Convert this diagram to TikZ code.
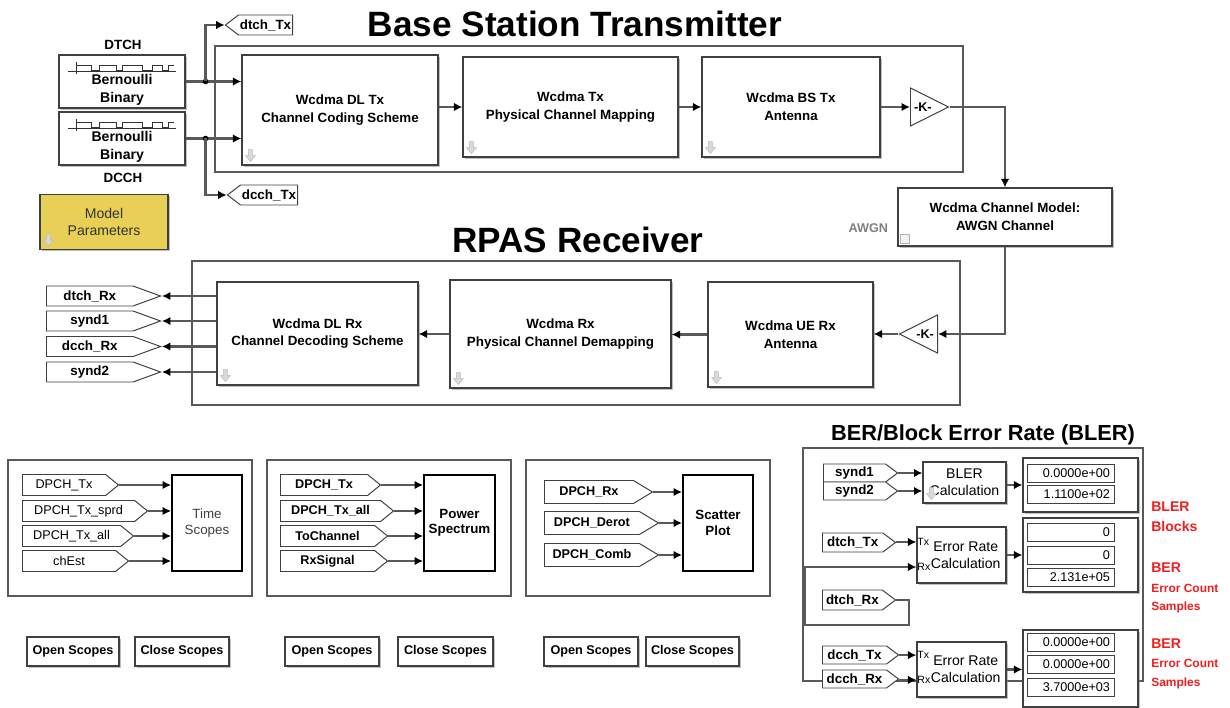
\documentclass[tikz,border=0pt]{standalone}
\usepackage{fontspec}
\setmainfont{Liberation Sans}
\usetikzlibrary{shapes, shapes.symbols, arrows.meta, positioning, shadows}
\usepackage{xcolor}

\definecolor{maskyellow}{RGB}{232,207,86}
\definecolor{berred}{RGB}{240,30,30}

% small gray mask arrow at the lower left corner of a block
\newcommand{\maskarrow}[1]{%
  \filldraw[gray!30, draw=gray!55, line width=0.3pt]
    ([shift={(7,-16)}]#1) -- ++(4,0) -- ++(0,6) -- ++(3,0) -- ++(-5,6) -- ++(-5,-6) -- ++(3,0) -- cycle;}

\begin{document}
\begin{tikzpicture}[x=0.025cm, y=-0.025cm,
        every node/.style={font=\fontsize{9.5}{12.5}\selectfont\bfseries},
        title/.style={font=\fontsize{25}{30}\selectfont\bfseries},
        block/.style={draw=black!75, line width=0.8pt, fill=white, align=center,
            drop shadow={shadow xshift=1.2pt, shadow yshift=-1.2pt, opacity=0.5}},
        frame/.style={draw=black!65, line width=0.8pt, fill=white,
            drop shadow={shadow xshift=1pt, shadow yshift=-1pt, opacity=0.35}},
        scopebox/.style={draw=black, line width=1.3pt, fill=white, align=center,
            minimum width=1.75cm, minimum height=2.4cm},
        button/.style={block, minimum height=0.725cm, inner sep=1pt, font=\fontsize{9}{10}\selectfont\bfseries},
        tagL/.style={signal, signal to=west, signal pointer angle=75, draw=black!75, fill=white,
            line width=0.7pt, inner sep=1pt, minimum height=0.5cm, anchor=east},
        tagR/.style={signal, signal to=east, signal pointer angle=78, draw=black!75, fill=white,
            line width=0.7pt, inner sep=1pt, minimum height=0.525cm, anchor=west},
        gain/.style={isosceles triangle, isosceles triangle stretches, draw=black!75, fill=white,
            line width=0.7pt, inner sep=0pt, minimum width=0.95cm, minimum height=0.95cm,
            font=\fontsize{9}{10}\selectfont\bfseries},
        field/.style={draw=black!75, line width=0.6pt, fill=white, inner xsep=3pt, inner ysep=0pt,
            text width=1.95cm, align=right, minimum height=0.45cm, font=\fontsize{9}{10}\selectfont},
        port/.style={inner sep=0.5pt, font=\fontsize{7.5}{8}\selectfont, anchor=west},
        redlbl/.style={text=berred, anchor=west, inner sep=0pt},
        sig/.style={draw=black!65, line width=1.6pt, -{Latex[length=6pt,width=6pt,color=black]}}
    ]
    \useasboundingbox (0,0) rectangle (1230,708);

    % Frames
    \draw[frame] (215,46) rectangle (963,172);
    \draw[frame] (192,261) rectangle (960,405);
    \draw[frame] (8,460) rectangle (252,596);
    \draw[frame] (267,460) rectangle (511,596);
    \draw[frame] (526,460) rectangle (770,596);
    \draw[frame] (803,448) rectangle (1143,681);

    % Titles
    \node[title] (txtitle) at (575,24) {Base Station Transmitter};
    \node[title] (rxtitle) at (578,240) {RPAS Receiver};
    \node[font=\fontsize{15.5}{18}\selectfont\bfseries] (bertitle) at (983,435) {BER/Block Error Rate (BLER)};

    % Sources
    \node (dtchlbl) at (123,45) {DTCH};
    \node[block, minimum width=3.15cm, minimum height=1.325cm] (bern1) at (122,81.5) {};
    \node[block, minimum width=3.15cm, minimum height=1.325cm] (bern2) at (122,138.5) {};
    \node (dcchlbl) at (123,178) {DCCH};
    \node[align=center, font=\fontsize{10}{12.5}\selectfont\bfseries] (bern1txt) at ([yshift=-0.21cm]bern1.center) {Bernoulli\\Binary};
    \node[align=center, font=\fontsize{10}{12.5}\selectfont\bfseries] (bern2txt) at ([yshift=-0.21cm]bern2.center) {Bernoulli\\Binary};
    \foreach \b in {bern1, bern2} {
        \draw[black!80, line width=0.6pt] ([shift={(10,17)}]\b.north west) -- ++(108,0);
        \draw[black!80, line width=0.6pt] ([shift={(18,8)}]\b.north west) -- ++(0,12);
        \draw[black!80, line width=0.6pt] ([shift={(18,11)}]\b.north west) -- ++(15,0) -- ++(0,5) -- ++(8,0)
            -- ++(0,-5) -- ++(17,0) -- ++(0,5) -- ++(6,0) -- ++(0,-5) -- ++(20,0) -- ++(0,5) -- ++(10,0)
            -- ++(0,-5) -- ++(10,0) -- ++(0,5) -- ++(6,0) -- ++(0,-5) -- ++(6,0);
    }
    \node[block, fill=maskyellow, minimum width=3.2cm, minimum height=1.375cm,
        font=\fontsize{10}{12.5}\selectfont, text=black!80] (modelpar) at (104,222) {Model\\Parameters};
    \maskarrow{modelpar.south west}

    \node[tagL, minimum width=1.575cm] (dtchTx) at (293,25) {dtch\_Tx};
    \node[tagL, minimum width=1.7cm] (dcchTx) at (298,195) {dcch\_Tx};

    % Transmitter
    \node[block, minimum width=4.9cm, minimum height=2.75cm] (coding) at (340,110)
        {Wcdma DL Tx\\Channel Coding Scheme};
    \node[block, minimum width=5.375cm, minimum height=2.5cm] (mapping) at (570.5,107)
        {Wcdma Tx\\Physical Channel Mapping};
    \node[block, minimum width=4.45cm, minimum height=2.5cm] (bstx) at (791,107)
        {Wcdma BS Tx\\Antenna};
    \node[gain, anchor=west] (gainTx) at (910,107) {-K-};
    \foreach \b in {coding, mapping, bstx} \maskarrow{\b.south west};

    % Channel
    \node[block, minimum width=5.35cm, minimum height=1.45cm] (awgn) at (1005,217)
        {Wcdma Channel Model:\\AWGN Channel};
    \node[anchor=east, text=black!50, font=\fontsize{9}{10}\selectfont\bfseries] (awgnlbl) at (893,228) {AWGN};
    \draw[gray!60, line width=0.5pt, fill=gray!10] ([shift={(3,-3)}]awgn.south west) rectangle ++(9,-9);

    % Receiver
    \node[block, minimum width=5.025cm, minimum height=2.575cm] (decoding) at (317.5,333.5)
        {Wcdma DL Rx\\Channel Decoding Scheme};
    \node[block, minimum width=5.525cm, minimum height=2.7cm] (demap) at (560.5,334)
        {Wcdma Rx\\Physical Channel Demapping};
    \node[block, minimum width=4.125cm, minimum height=2.625cm] (uerx) at (790.5,334.5)
        {Wcdma UE Rx\\Antenna};
    \node[gain, shape border rotate=180, anchor=east] (gainRx) at (938,334) {-K-};
    \foreach \b in {decoding, demap, uerx} \maskarrow{\b.south west};

    \node[tagR, signal pointer angle=40, minimum width=2.85cm, minimum height=0.5cm] (dtchRx) at (46,296) {dtch\_Rx};
    \node[tagR, signal pointer angle=40, minimum width=2.85cm, minimum height=0.5cm] (synd1) at (46,321) {synd1};
    \node[tagR, signal pointer angle=40, minimum width=2.85cm, minimum height=0.5cm] (dcchRx) at (46,346.5) {dcch\_Rx};
    \node[tagR, signal pointer angle=40, minimum width=2.85cm, minimum height=0.5cm] (synd2) at (46,372) {synd2};

    % Scope panels
    \node[tagR, minimum width=2.4cm, font=\fontsize{9}{10}\selectfont] (p1a) at (22,485) {DPCH\_Tx};
    \node[tagR, minimum width=3.125cm, font=\fontsize{9}{10}\selectfont] (p1b) at (22,511) {DPCH\_Tx\_sprd};
    \node[tagR, minimum width=2.775cm, font=\fontsize{9}{10}\selectfont] (p1c) at (22,536) {DPCH\_Tx\_all};
    \node[tagR, minimum width=2.65cm, font=\fontsize{9}{10}\selectfont] (p1d) at (22,561) {chEst};
    \node[scopebox, font=\fontsize{9.5}{12}\selectfont, text=black!75] (tscope) at (207,523) {Time\\Scopes};

    \node[tagR, minimum width=2.5cm, font=\fontsize{9}{10}\selectfont\bfseries] (p2a) at (280,485) {DPCH\_Tx};
    \node[tagR, minimum width=2.825cm, font=\fontsize{9}{10}\selectfont\bfseries] (p2b) at (280,511) {DPCH\_Tx\_all};
    \node[tagR, minimum width=2.675cm, font=\fontsize{9}{10}\selectfont\bfseries] (p2c) at (280,536) {ToChannel};
    \node[tagR, minimum width=2.675cm, font=\fontsize{9}{10}\selectfont\bfseries] (p2d) at (280,561) {RxSignal};
    \node[scopebox, font=\fontsize{9.5}{11}\selectfont\bfseries] (pspec) at (459.5,523) {Power\\Spectrum};

    \node[tagR, signal pointer angle=62, minimum width=2.7cm, minimum height=0.575cm,
        font=\fontsize{9}{10}\selectfont\bfseries] (p3a) at (544,492) {DPCH\_Rx};
    \node[tagR, signal pointer angle=62, minimum width=2.85cm, minimum height=0.575cm,
        font=\fontsize{9}{10}\selectfont\bfseries] (p3b) at (544,523) {DPCH\_Derot};
    \node[tagR, signal pointer angle=62, minimum width=2.85cm, minimum height=0.575cm,
        font=\fontsize{9}{10}\selectfont\bfseries] (p3c) at (544,555) {DPCH\_Comb};
    \node[scopebox, font=\fontsize{9.5}{11}\selectfont\bfseries] (scatter) at (718,523) {Scatter\\Plot};

    \node[button, minimum width=2.3cm] (open1) at (73,651.5) {Open Scopes};
    \node[button, minimum width=2.35cm] (close1) at (182,651.5) {Close Scopes};
    \node[button, minimum width=2.35cm] (open2) at (332,651.5) {Open Scopes};
    \node[button, minimum width=2.375cm] (close2) at (445.5,651.5) {Close Scopes};
    \node[button, minimum width=2.35cm] (open3) at (591,651.5) {Open Scopes};
    \node[button, minimum width=2.325cm] (close3) at (692.5,651.5) {Close Scopes};

    % BER / BLER
    \node[tagR, signal pointer angle=74, minimum width=1.85cm, minimum height=0.45cm] (synd1b) at (823,473) {synd1};
    \node[tagR, signal pointer angle=74, minimum width=1.85cm, minimum height=0.45cm] (synd2b) at (823,491) {synd2};
    \node[block, minimum width=2.075cm, minimum height=1.025cm, font=\fontsize{10}{12}\selectfont] (blercalc) at (964.5,482.5)
        {BLER\\Calculation};
    \maskarrow{blercalc.south west}
    \node[block, minimum width=2.875cm, minimum height=1.35cm] (disp1) at (1080.5,485) {};
    \node[field] (d1a) at (1071,473.5) {0.0000e+00};
    \node[field] (d1b) at (1071,494) {1.1100e+02};

    \node[tagR, signal pointer angle=74, minimum width=1.825cm, minimum height=0.475cm] (dtchTx2) at (822,542.5) {dtch\_Tx};
    \node[tagR, signal pointer angle=74, minimum width=1.825cm, minimum height=0.5cm] (dtchRx2) at (822,600) {dtch\_Rx};
    \node[block, minimum width=2.225cm, minimum height=1.4cm, font=\fontsize{10}{12}\selectfont] (errcalc1) at (961.5,555)
        {\hspace{6pt}Error Rate\\\hspace{6pt}Calculation};
    \node[block, minimum width=2.875cm, minimum height=1.85cm] (disp2) at (1080.5,555) {};
    \node[field] (d2a) at (1071,532.5) {0};
    \node[field] (d2b) at (1071,555) {0};
    \node[field] (d2c) at (1071,577.5) {2.131e+05};

    \node[tagR, signal pointer angle=74, minimum width=1.9cm, minimum height=0.45cm] (dcchTx2) at (822,655) {dcch\_Tx};
    \node[tagR, signal pointer angle=74, minimum width=1.9cm, minimum height=0.45cm] (dcchRx2) at (822,679) {dcch\_Rx};
    \node[block, minimum width=2.225cm, minimum height=1.375cm, font=\fontsize{10}{12}\selectfont] (errcalc2) at (961.5,669.5)
        {\hspace{6pt}Error Rate\\\hspace{6pt}Calculation};
    \node[block, minimum width=2.875cm, minimum height=1.925cm] (disp3) at (1080.5,668.5) {};
    \node[field] (d3a) at (1071,642.5) {0.0000e+00};
    \node[field] (d3b) at (1071,664.5) {0.0000e+00};
    \node[field] (d3c) at (1071,687) {3.7000e+03};

    \coordinate (e1tx) at ([yshift=0.325cm]errcalc1.west);
    \coordinate (e1rx) at ([yshift=-0.3cm]errcalc1.west);
    \coordinate (e2tx) at ([yshift=0.36cm]errcalc2.west);
    \coordinate (e2rx) at ([yshift=-0.26cm]errcalc2.west);
    \node[port] (e1txl) at (e1tx) {Tx};
    \node[port] (e1rxl) at (e1rx) {Rx};
    \node[port] (e2txl) at (e2tx) {Tx};
    \node[port] (e2rxl) at (e2rx) {Rx};

    \node[redlbl, font=\fontsize{10}{12}\selectfont\bfseries] (rl1) at (1151,507) {BLER};
    \node[redlbl, font=\fontsize{10}{12}\selectfont\bfseries] (rl2) at (1151,526) {Blocks};
    \node[redlbl, font=\fontsize{10}{12}\selectfont\bfseries] (rl3) at (1151,568) {BER};
    \node[redlbl, font=\fontsize{8.5}{10}\selectfont\bfseries] (rl4) at (1151,588) {Error Count};
    \node[redlbl, font=\fontsize{8.5}{10}\selectfont\bfseries] (rl5) at (1151,607) {Samples};
    \node[redlbl, font=\fontsize{10}{12}\selectfont\bfseries] (rl6) at (1151,644) {BER};
    \node[redlbl, font=\fontsize{8.5}{10}\selectfont\bfseries] (rl7) at (1151,663) {Error Count};
    \node[redlbl, font=\fontsize{8.5}{10}\selectfont\bfseries] (rl8) at (1151,683) {Samples};

    % Connectors: transmitter
    \coordinate (j1) at ([xshift=0.5cm]bern1.east);
    \coordinate (j2) at ([xshift=0.5cm]bern2.east);
    \draw[sig] (bern1.east) -- (bern1.east -| coding.west);
    \draw[sig] (bern2.east) -- (bern2.east -| coding.west);
    \fill[black] (j1) circle[radius=2pt];
    \fill[black] (j2) circle[radius=2pt];
    \draw[sig] (j1) |- (dtchTx.west);
    \draw[sig] (j2) |- (dcchTx.west);
    \draw[sig] (coding.east |- mapping.west) -- (mapping.west);
    \draw[sig] (mapping.east) -- (bstx.west);
    \draw[sig] (bstx.east) -- (gainTx.west);
    \draw[sig] (gainTx.east) -| (awgn.north);
    \draw[sig] (awgn.south) |- (gainRx.east);

    % Connectors: receiver
    \draw[sig] (gainRx.west) -- (gainRx.west -| uerx.east);
    \draw[sig] (uerx.west) -- (uerx.west -| demap.east);
    \draw[sig] (demap.west) -- (demap.west -| decoding.east);
    \foreach \t in {dtchRx, synd1, dcchRx, synd2}
        \draw[sig] (\t.east -| decoding.west) -- (\t.east);

    % Connectors: scopes
    \foreach \t in {p1a, p1b, p1c, p1d} \draw[sig] (\t.east) -- (\t.east -| tscope.west);
    \foreach \t in {p2a, p2b, p2c, p2d} \draw[sig] (\t.east) -- (\t.east -| pspec.west);
    \foreach \t in {p3a, p3b, p3c} \draw[sig] (\t.east) -- (\t.east -| scatter.west);

    % Connectors: BER
    \draw[sig] (synd1b.east) -- (synd1b.east -| blercalc.west);
    \draw[sig] (synd2b.east) -- (synd2b.east -| blercalc.west);
    \draw[sig] (blercalc.east |- disp1.west) -- (disp1.west);
    \draw[sig] (dtchTx2.east |- e1tx) -- (e1tx);
    \coordinate (loopL) at ([xshift=-0.425cm]dtchRx2.west);
    \draw[sig] (dtchRx2.east) -- ++(13,0) -- ++(0,25) -| (loopL |- e1rx) -- (e1rx);
    \draw[sig] (errcalc1.east) -- (errcalc1.east -| disp2.west);
    \draw[sig] (dcchTx2.east |- e2tx) -- (e2tx);
    \draw[sig] (dcchRx2.east |- e2rx) -- (e2rx);
    \draw[sig] (errcalc2.east) -- (errcalc2.east -| disp3.west);
\end{tikzpicture}
\end{document}
